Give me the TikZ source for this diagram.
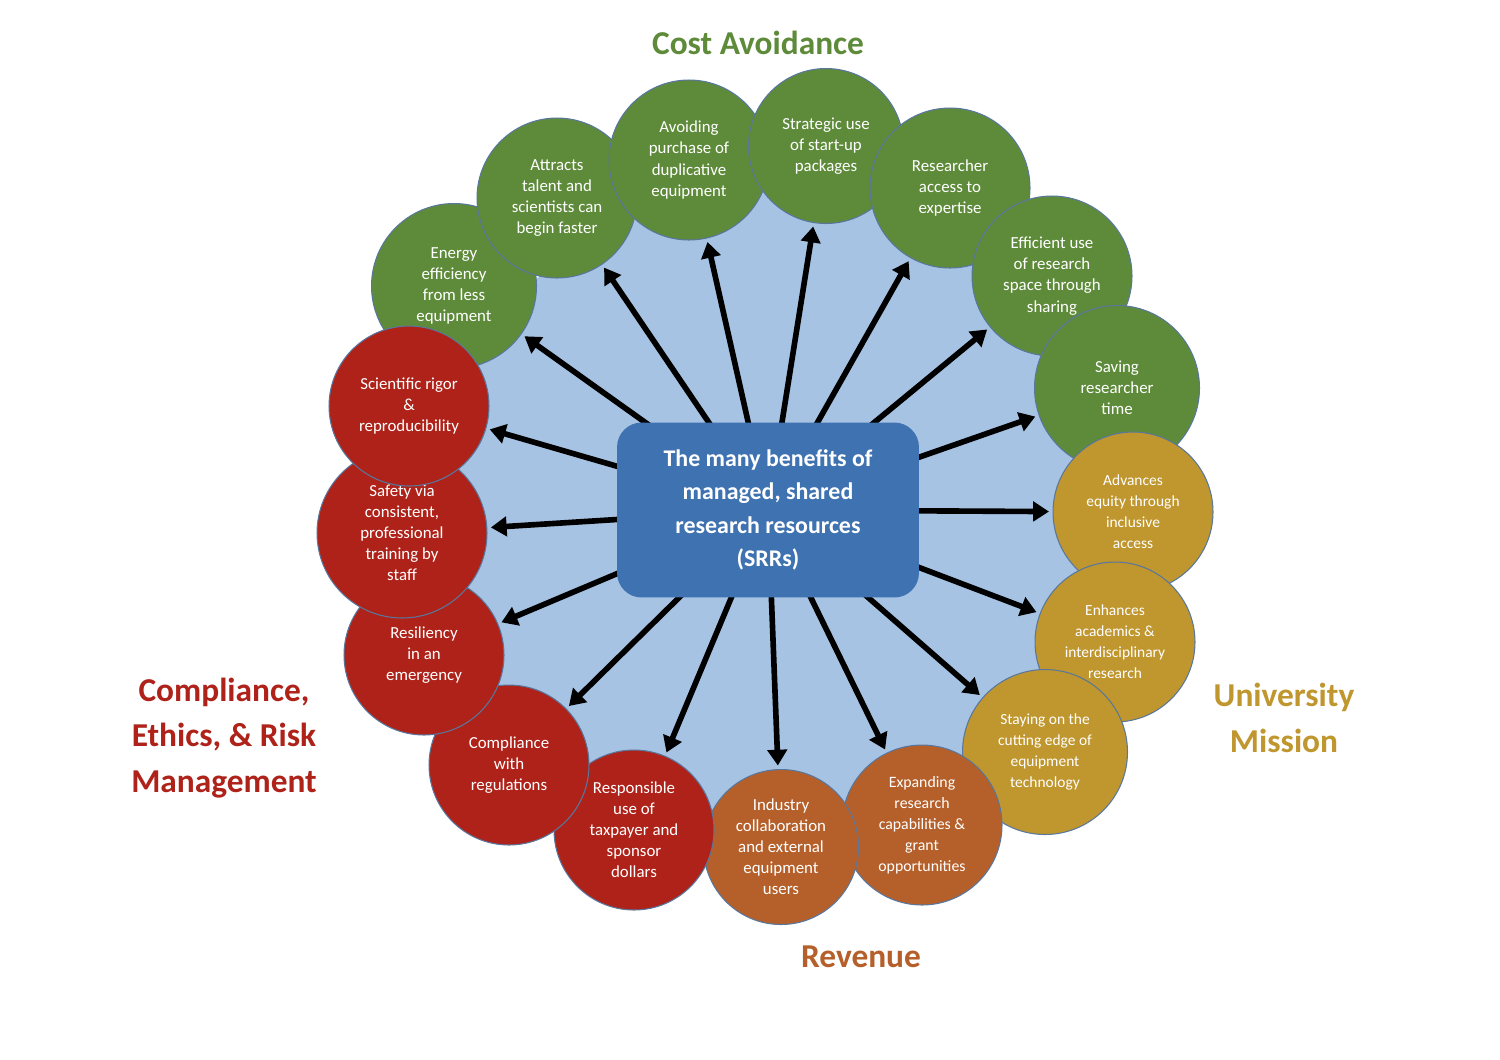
\documentclass[tikz,border=0pt]{standalone}
\usepackage{fontspec}
\setmainfont{Carlito}
\usetikzlibrary{arrows.meta}
\definecolor{cgreen}{HTML}{5E8B3A}
\definecolor{cred}{HTML}{AE2219}
\definecolor{cgold}{HTML}{C0962E}
\definecolor{corange}{HTML}{B5602A}
\definecolor{cbg}{HTML}{A7C3E3}
\definecolor{cbox}{HTML}{3F72B0}
\tikzset{
 bub/.style={circle,draw=cbox!60!gray,line width=0.6pt,text=white,align=center,font=\fontsize{9.6}{12}\selectfont,inner sep=0pt},
 gbub/.style={bub,fill=cgreen},
 rbub/.style={bub,fill=cred},
 ybub/.style={bub,fill=cgold,font=\fontsize{8.8}{12}\selectfont},
 obub/.style={bub,fill=corange,font=\fontsize{9}{12}\selectfont},
 arr/.style={line width=3.2pt,-{Triangle[length=9pt,width=11pt]},shorten >=2pt},
 ttl/.style={font=\bfseries\fontsize{19}{26}\selectfont,align=center}
}
\begin{document}
\begin{tikzpicture}[x={(0.02cm,0cm)},y={(0cm,-0.02cm)}]
\useasboundingbox[fill=white] (0,0) rectangle (1500,1059);
\fill[cbg] (767,515) circle [radius=6.6cm];
\node[gbub,minimum size=3.3cm] (c1) at (454,286) {Energy\\efficiency\\from less\\equipment};
\node[gbub,minimum size=3.2cm] (c2) at (557,198) {Attracts\\talent and\\scientists can\\begin faster};
\node[gbub,minimum size=3.2cm] (c3) at (689,160) {Avoiding\\purchase of\\duplicative\\equipment};
\node[gbub,minimum size=3.1cm] (c4) at (826,146) {Strategic use\\of start-up\\packages};
\node[gbub,minimum size=3.2cm] (c5) at (950,188) {Researcher\\access to\\expertise};
\node[gbub,minimum size=3.2cm] (c6) at (1052,276) {Efficient use\\of research\\space through\\sharing};
\node[gbub,minimum size=3.3cm] (c7) at (1117,388) {Saving\\researcher\\time};
\node[ybub,minimum size=3.2cm] (c8) at (1133,512) {Advances\\equity through\\inclusive\\access};
\node[ybub,minimum size=3.2cm] (c9) at (1115,642) {Enhances\\academics \&\\interdisciplinary\\research};
\node[ybub,minimum size=3.3cm] (c10) at (1045,752) {Staying on the\\cutting edge of\\equipment\\technology};
\node[obub,minimum size=3.2cm] (c11) at (922,825) {Expanding\\research\\capabilities \&\\grant\\opportunities};
\node[obub,minimum size=3.1cm,font=\fontsize{9.6}{12}\selectfont] (c12) at (781,847) {Industry\\collaboration\\and external\\equipment\\users};
\node[rbub,minimum size=3.2cm] (c13) at (634,830) {Responsible\\use of\\taxpayer and\\sponsor\\dollars};
\node[rbub,minimum size=3.2cm] (c14) at (509,765) {Compliance\\with\\regulations};
\node[rbub,minimum size=3.2cm] (c15) at (424,655) {Resiliency\\in an\\emergency};
\node[rbub,minimum size=3.4cm] (c16) at (402,533) {Safety via\\consistent,\\professional\\training by\\staff};
\node[rbub,minimum size=3.2cm] (c17) at (409,406) {Scientific rigor\\\&\\reproducibility};
\coordinate (ctr) at (768,510);
\foreach \i in {1,...,17} \draw[arr] (ctr) -- (c\i);
\node[fill=cbox,rounded corners=14pt,minimum width=6.04cm,minimum height=3.5cm,text=white,align=center,font=\bfseries\fontsize{13.6}{19}\selectfont] (box) at (768,510) {The many benefits of\\managed, shared\\research resources\\(SRRs)};
\node[ttl,text=cgreen] (t1) at (758,43) {Cost Avoidance};
\node[ttl,text=cred] (t2) at (224,738) {Compliance,\\Ethics, \& Risk\\Management};
\node[ttl,text=cgold] (t3) at (1284,718) {University\\Mission};
\node[ttl,text=corange] (t4) at (861,957) {Revenue};
\end{tikzpicture}
\end{document}
